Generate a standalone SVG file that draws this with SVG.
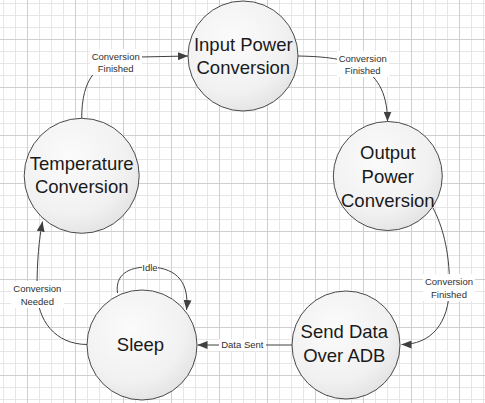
<svg xmlns="http://www.w3.org/2000/svg" width="485" height="403" viewBox="0 0 485 403">
<style>
.node circle{fill:url(#nodeFill);stroke:#4a4a4a;stroke-width:1}
.nt{font-family:"Liberation Sans",Arial,sans-serif;font-size:18.5px;fill:#1a1a1a;text-anchor:middle}
.conn path,.conn line{fill:none;stroke:#404040;stroke-width:1;marker-end:url(#arrow)}
.lbl rect{fill:#ffffff}
.lbl text{font-family:"Liberation Sans",Arial,sans-serif;font-size:9.5px;fill:#303030;text-anchor:middle}
</style>
<defs>
<pattern id="grid" x="27" y="39" width="48" height="48" patternUnits="userSpaceOnUse">
<path d="M12.5,0V48M24.5,0V48M36.5,0V48M0,12.5H48M0,24.5H48M0,36.5H48" stroke="#e6e6e6" stroke-width="1" fill="none"/>
<path d="M0.5,0V48M0,0.5H48" stroke="#cfcfcf" stroke-width="1" fill="none"/>
</pattern>
<radialGradient id="nodeFill" cx="0.4" cy="0.35" r="0.7">
<stop offset="0" stop-color="#fbfbfb"/>
<stop offset="0.7" stop-color="#f1f1f1"/>
<stop offset="1" stop-color="#e2e2e2"/>
</radialGradient>
<marker id="arrow" viewBox="0 0 10 8" refX="10" refY="4" markerWidth="10" markerHeight="8" markerUnits="userSpaceOnUse" orient="auto">
<path d="M0,0L10,4L0,8z" fill="#404040"/>
</marker>
</defs>
<rect width="485" height="403" fill="#ffffff"/>
<rect width="485" height="403" fill="url(#grid)"/>

<g id="connectors" class="conn">
<path d="M81.7,118.5 C81.7,80 95,57 140,57 L188,56"/>
<path d="M298,56 C340,57 387.5,60 387.5,121.5"/>
<path d="M433,208 C442,225 449.5,250 449.5,285 C449.5,325 430,344.5 401.5,344.5"/>
<line x1="292" y1="345" x2="197.5" y2="345"/>
<path d="M87.3,344.5 C55,344.5 37,320 37,290 C37,260 39,240 42.5,221.5"/>
<path d="M117.5,293 C115,275 128,267 148,267 C172,267 190,278 186.5,310"/>
</g>

<g id="labels" class="lbl">
<rect x="90" y="49" width="52" height="26"/>
<text x="115.7" y="59.5">Conversion</text>
<text x="115.7" y="72">Finished</text>
<rect x="337" y="51" width="52" height="26"/>
<text x="362.7" y="61.5">Conversion</text>
<text x="362.7" y="74">Finished</text>
<rect x="423" y="274" width="52" height="27"/>
<text x="449" y="285">Conversion</text>
<text x="449" y="297.5">Finished</text>
<rect x="11" y="281" width="53" height="27"/>
<text x="37.3" y="292">Conversion</text>
<text x="37.3" y="304.5">Needed</text>
<rect x="142" y="261" width="16" height="12"/>
<text x="150" y="270.5">Idle</text>
<rect x="219" y="339" width="47" height="12"/>
<text x="242.3" y="348">Data Sent</text>
</g>

<g id="node-input" class="node">
<circle cx="243" cy="56" r="55"/>
<text class="nt" x="243.3" y="50.5">Input Power</text>
<text class="nt" x="243.3" y="74">Conversion</text>
</g>
<g id="node-temperature" class="node">
<circle cx="81.7" cy="175.8" r="57.5"/>
<text class="nt" x="81.7" y="169.5">Temperature</text>
<text class="nt" x="81.7" y="193.3">Conversion</text>
</g>
<g id="node-output" class="node">
<circle cx="387.8" cy="176" r="54.5"/>
<text class="nt" x="387.8" y="158.7">Output</text>
<text class="nt" x="387.8" y="182.7">Power</text>
<text class="nt" x="387.8" y="206.7">Conversion</text>
</g>
<g id="node-sleep" class="node">
<circle cx="142" cy="345" r="55"/>
<text class="nt" x="140.5" y="350.5">Sleep</text>
</g>
<g id="node-send" class="node">
<circle cx="346" cy="345" r="54"/>
<text class="nt" x="344.3" y="338.3">Send Data</text>
<text class="nt" x="344.3" y="362.3">Over ADB</text>
</g>
</svg>
